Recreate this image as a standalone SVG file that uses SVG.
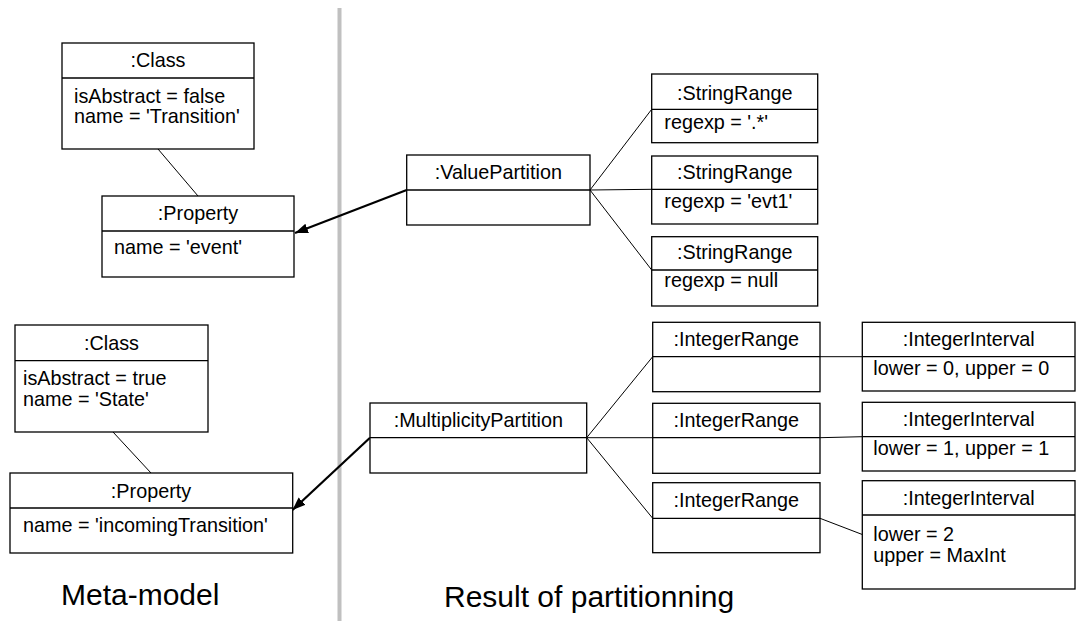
<svg xmlns="http://www.w3.org/2000/svg" width="1076" height="621" viewBox="0 0 1076 621">
<defs>
<style>
.box{fill:#fff;stroke:#000;stroke-width:1.3}
.div{stroke:#000;stroke-width:1.3}
.t{font-family:"Liberation Sans",Arial,sans-serif;font-size:19.8px;fill:#000}
.c{text-anchor:middle}
.big{font-family:"Liberation Sans",Arial,sans-serif;font-size:30px;fill:#000}
.ln{stroke:#000;stroke-width:1;fill:none}
.arr{stroke:#000;stroke-width:2.2;fill:none;marker-end:url(#ah)}
</style>
<marker id="ah" markerUnits="userSpaceOnUse" markerWidth="14" markerHeight="12" refX="13" refY="5" orient="auto">
<path d="M0,0 L13,5 L0,10 z" fill="#000"/>
</marker>
</defs>
<rect x="337.5" y="8" width="4" height="613" fill="#c0c0c0"/>

<g id="connectors">
<line class="ln" x1="158" y1="149" x2="198" y2="196"/>
<line class="ln" x1="113" y1="432" x2="151" y2="473"/>
<path class="arr" d="M406.7,190 L295,233"/>
<path class="arr" d="M370,437.7 L292.5,510"/>
<line class="ln" x1="590" y1="190" x2="651.7" y2="109.3"/>
<line class="ln" x1="590" y1="190" x2="651.7" y2="189.3"/>
<line class="ln" x1="590" y1="190" x2="651.7" y2="270"/>
<line class="ln" x1="586.7" y1="437.7" x2="652.7" y2="356.7"/>
<line class="ln" x1="586.7" y1="437.7" x2="652.7" y2="437.7"/>
<line class="ln" x1="586.7" y1="437.7" x2="652.7" y2="518.3"/>
<line class="ln" x1="820" y1="356.7" x2="862.3" y2="356.7"/>
<line class="ln" x1="820" y1="437.7" x2="862.3" y2="436.7"/>
<line class="ln" x1="820" y1="518.3" x2="862.3" y2="534.5"/>
</g>

<g id="class1">
<rect class="box" x="62" y="43" width="192" height="106"/>
<line class="div" x1="62" y1="78" x2="254" y2="78"/>
<text class="t c" x="158" y="67">:Class</text>
<text class="t" x="74" y="103">isAbstract = false</text>
<text class="t" x="74" y="123">name = 'Transition'</text>
</g>

<g id="property1">
<rect class="box" x="102" y="196" width="192" height="81"/>
<line class="div" x1="102" y1="231" x2="294" y2="231"/>
<text class="t c" x="198" y="220">:Property</text>
<text class="t" x="114" y="254">name = 'event'</text>
</g>

<g id="class2">
<rect class="box" x="15" y="325" width="193" height="107"/>
<line class="div" x1="15" y1="360.7" x2="208" y2="360.7"/>
<text class="t c" x="111.5" y="350">:Class</text>
<text class="t" x="23" y="385">isAbstract = true</text>
<text class="t" x="23" y="406">name = 'State'</text>
</g>

<g id="property2">
<rect class="box" x="10" y="473" width="282.7" height="80"/>
<line class="div" x1="10" y1="508" x2="292.7" y2="508"/>
<text class="t c" x="151" y="498">:Property</text>
<text class="t" x="23" y="532">name = 'incomingTransition'</text>
</g>

<g id="valuePartition">
<rect class="box" x="406.7" y="155" width="183.3" height="70"/>
<line class="div" x1="406.7" y1="190" x2="590" y2="190"/>
<text class="t c" x="498.3" y="179">:ValuePartition</text>
</g>

<g id="stringRange1">
<rect class="box" x="651.7" y="74" width="166" height="68.7"/>
<line class="div" x1="651.7" y1="109.3" x2="817.7" y2="109.3"/>
<text class="t c" x="734.7" y="100">:StringRange</text>
<text class="t" x="664.3" y="129.3">regexp = '.*'</text>
</g>

<g id="stringRange2">
<rect class="box" x="651.7" y="156" width="166" height="68"/>
<line class="div" x1="651.7" y1="189.3" x2="817.7" y2="189.3"/>
<text class="t c" x="734.7" y="179.3">:StringRange</text>
<text class="t" x="664.3" y="208.3">regexp = 'evt1'</text>
</g>

<g id="stringRange3">
<rect class="box" x="651.7" y="236.7" width="166" height="69.3"/>
<line class="div" x1="651.7" y1="270" x2="817.7" y2="270"/>
<text class="t c" x="734.7" y="259.3">:StringRange</text>
<text class="t" x="664.3" y="286.7">regexp = null</text>
</g>

<g id="multiplicityPartition">
<rect class="box" x="370" y="403" width="216.7" height="70"/>
<line class="div" x1="370" y1="437.7" x2="586.7" y2="437.7"/>
<text class="t c" x="478.3" y="427">:MultiplicityPartition</text>
</g>

<g id="integerRange1">
<rect class="box" x="652.7" y="322.3" width="167.3" height="69.4"/>
<line class="div" x1="652.7" y1="356.7" x2="820" y2="356.7"/>
<text class="t c" x="736.3" y="346">:IntegerRange</text>
</g>

<g id="integerRange2">
<rect class="box" x="652.7" y="403.3" width="167.3" height="70"/>
<line class="div" x1="652.7" y1="437.7" x2="820" y2="437.7"/>
<text class="t c" x="736.3" y="426.7">:IntegerRange</text>
</g>

<g id="integerRange3">
<rect class="box" x="652.7" y="482.7" width="167.3" height="70"/>
<line class="div" x1="652.7" y1="518.3" x2="820" y2="518.3"/>
<text class="t c" x="736.3" y="506.7">:IntegerRange</text>
</g>

<g id="integerInterval1">
<rect class="box" x="862.3" y="322.3" width="212.7" height="68.7"/>
<line class="div" x1="862.3" y1="356.7" x2="1075" y2="356.7"/>
<text class="t c" x="968.7" y="346">:IntegerInterval</text>
<text class="t" x="873.3" y="375">lower = 0, upper = 0</text>
</g>

<g id="integerInterval2">
<rect class="box" x="862.3" y="402.3" width="212.7" height="68.7"/>
<line class="div" x1="862.3" y1="436.7" x2="1075" y2="436.7"/>
<text class="t c" x="968.7" y="425.7">:IntegerInterval</text>
<text class="t" x="873.3" y="455">lower = 1, upper = 1</text>
</g>

<g id="integerInterval3">
<rect class="box" x="862.3" y="480.7" width="212.7" height="108.3"/>
<line class="div" x1="862.3" y1="515" x2="1075" y2="515"/>
<text class="t c" x="968.7" y="505">:IntegerInterval</text>
<text class="t" x="873.3" y="540.7">lower = 2</text>
<text class="t" x="873.3" y="561.7">upper = MaxInt</text>
</g>

<g id="labels">
<text class="big" x="61" y="605">Meta-model</text>
<text class="big" x="444" y="607">Result of partitionning</text>
</g>
</svg>
